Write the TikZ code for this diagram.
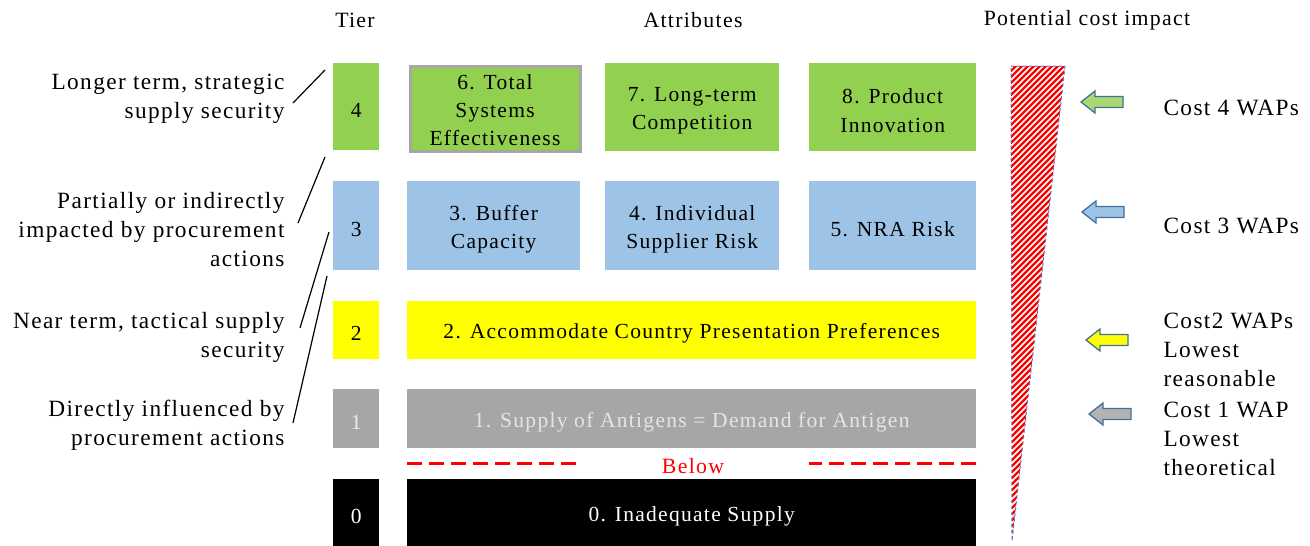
\documentclass[tikz,border=0pt]{standalone}
\usepackage{fontspec}
\setmainfont{Liberation Serif}
\newfontfamily\tfont[LetterSpace=6]{Liberation Serif}
\definecolor{tgreen}{HTML}{92D050}
\definecolor{tblue}{HTML}{9DC3E6}
\definecolor{tyellow}{HTML}{FFFF00}
\definecolor{tgray}{HTML}{A6A6A6}
\definecolor{aborder}{HTML}{41719C}
\definecolor{wedgeblue}{HTML}{4F81BD}
\begin{document}
\begin{tikzpicture}[x=1pt,y=-1pt,
  sidetxt/.style={font=\tfont\fontsize{23.3}{29}\selectfont},
  boxtxt/.style={font=\tfont\fontsize{21.5}{28.3}\selectfont,align=center,inner sep=0pt,yshift=-3.5pt},
  box/.style={anchor=north west,inner sep=0pt},
  lefttxt/.style={sidetxt,align=right,anchor=east},
  righttxt/.style={sidetxt,align=left,anchor=west},
  hdr/.style={font=\tfont\fontsize{21.8}{24}\selectfont},
  larrow/.style={draw=aborder,line width=1.3pt,line join=miter},
  diag/.style={line width=1.2pt}
]
\useasboundingbox (0,0) rectangle (1310,546);
% headers
\node[hdr] (hTier) at (355,20) {Tier};
\node[hdr] (hAttr) at (693,20) {Attributes};
\node[hdr] (hCost) at (1087,20) {Potential cost impact};
% tier boxes
\node[box,fill=tgreen,minimum width=46pt,minimum height=87pt] (t4) at (333,63) {};
\node[box,fill=tblue,minimum width=46pt,minimum height=89pt] (t3) at (333,181) {};
\node[box,fill=tyellow,minimum width=46pt,minimum height=58pt] (t2) at (333,301) {};
\node[box,fill=tgray,minimum width=46pt,minimum height=59pt] (t1) at (333,389) {};
\node[box,fill=black,minimum width=46pt,minimum height=67pt] (t0) at (333,479) {};
\node[boxtxt] (t4l) at (t4.center) {4};
\node[boxtxt] (t3l) at (t3.center) {3};
\node[boxtxt] (t2l) at (t2.center) {2};
\node[boxtxt,text=white!92!black] (t1l) at (t1.center) {1};
\node[boxtxt,text=white] (t0l) at (t0.center) {0};
% attribute boxes
\node[box,fill=tgreen,draw=tgray,line width=3pt,minimum width=170pt,minimum height=85pt] (a6) at (408.5,64.5) {};
\node[box,fill=tgreen,minimum width=174pt,minimum height=88pt] (a7) at (605,63) {};
\node[box,fill=tgreen,minimum width=167pt,minimum height=88pt] (a8) at (809,63) {};
\node[box,fill=tblue,minimum width=173pt,minimum height=89pt] (a3) at (407,181) {};
\node[box,fill=tblue,minimum width=174pt,minimum height=89pt] (a4) at (605,181) {};
\node[box,fill=tblue,minimum width=167pt,minimum height=89pt] (a5) at (809,181) {};
\node[box,fill=tyellow,minimum width=569pt,minimum height=58pt] (a2) at (407,301) {};
\node[box,fill=tgray,minimum width=569pt,minimum height=59pt] (a1) at (407,389) {};
\node[box,fill=black,minimum width=569pt,minimum height=67pt] (a0) at (407,479) {};
\node[boxtxt,yshift=2pt] (a6l) at (a6.center) {6. Total\\[-0.5pt]Systems\\[-0.5pt]Effectiveness};
\node[boxtxt] (a7l) at (a7.center) {7. Long-term\\Competition};
\node[boxtxt] (a8l) at (a8.center) {8. Product\\Innovation};
\node[boxtxt] (a3l) at (a3.center) {3. Buffer\\Capacity};
\node[boxtxt] (a4l) at (a4.center) {4. Individual\\Supplier Risk};
\node[boxtxt] (a5l) at (a5.center) {5. NRA Risk};
\node[boxtxt] (a2l) at (a2.center) {2. Accommodate Country Presentation Preferences};
\node[boxtxt,text=white!90!black] (a1l) at (a1.center) {1. Supply of Antigens = Demand for Antigen};
\node[boxtxt,text=white] (a0l) at (a0.center) {0. Inadequate Supply};
% below line
\coordinate (bl1) at (407,463);
\coordinate (bl2) at (580,463);
\coordinate (bl3) at (976,463);
\coordinate (bl4) at (809,463);
\draw[red,line width=3pt,dash pattern=on 15pt off 7pt] (bl1) -- (bl2);
\draw[red,line width=3pt,dash pattern=on 15pt off 7pt] (bl3) -- (bl4);
\node[hdr,text=red] (below) at (693,466) {Below};
% left texts
\node[lefttxt] (l4) at (288,99) {Longer term, strategic\\supply security};
\node[lefttxt] (l3) at (288,230) {Partially or indirectly\\impacted by procurement\\actions};
\node[lefttxt] (l2) at (288,337) {Near term, tactical supply\\security};
\node[lefttxt] (l1) at (288,425) {Directly influenced by\\procurement actions};
% diagonal lines
\coordinate (d1a) at (293,103); \coordinate (d1b) at (325,70);
\coordinate (d2a) at (298,223); \coordinate (d2b) at (325,157);
\coordinate (d3a) at (300,328); \coordinate (d3b) at (329,232);
\coordinate (d4a) at (293,423); \coordinate (d4b) at (327,276);
\draw[diag] (d1a) -- (d1b);
\draw[diag] (d2a) -- (d2b);
\draw[diag] (d3a) -- (d3b);
\draw[diag] (d4a) -- (d4b);
% wedge
\coordinate (w1) at (1011,66);
\coordinate (w2) at (1065,66);
\coordinate (w3) at (1012,541);
\begin{scope}
\clip (w1) -- (w2) -- (w3) -- cycle;
\fill[white] (1000,60) rectangle (1070,545);
\foreach \k in {0,...,90}{
  \draw[red,line width=2.3pt] (1000,70+6*\k) -- (1070,70+6*\k-70);
}
\end{scope}
\draw[wedgeblue,line width=1pt,dashed] (w1) -- (w2) -- (w3) -- cycle;
% arrows
\newcommand\blockarrow[3]{%
  \coordinate (#1) at #2;
  \draw[larrow,fill=#3] (#1) ++(-21,0) -- ++(14,-11) -- ++(0,5.5) -- ++(28,0) -- ++(0,11) -- ++(-28,0) -- ++(0,5.5) -- cycle;}
\blockarrow{ar4}{(1102,102)}{tgreen!80!white}
\blockarrow{ar3}{(1103,212)}{tblue}
\blockarrow{ar2}{(1107,340)}{tyellow}
\blockarrow{ar1}{(1110,414)}{tgray!85!white}
% right texts
\node[righttxt] (r4) at (1160,108) {Cost 4 WAPs};
\node[righttxt] (r3) at (1160,226) {Cost 3 WAPs};
\node[righttxt] (r2) at (1160,350) {Cost2 WAPs\\Lowest\\reasonable};
\node[righttxt] (r1) at (1160,439) {Cost 1 WAP\\Lowest\\theoretical};
\end{tikzpicture}
\end{document}
